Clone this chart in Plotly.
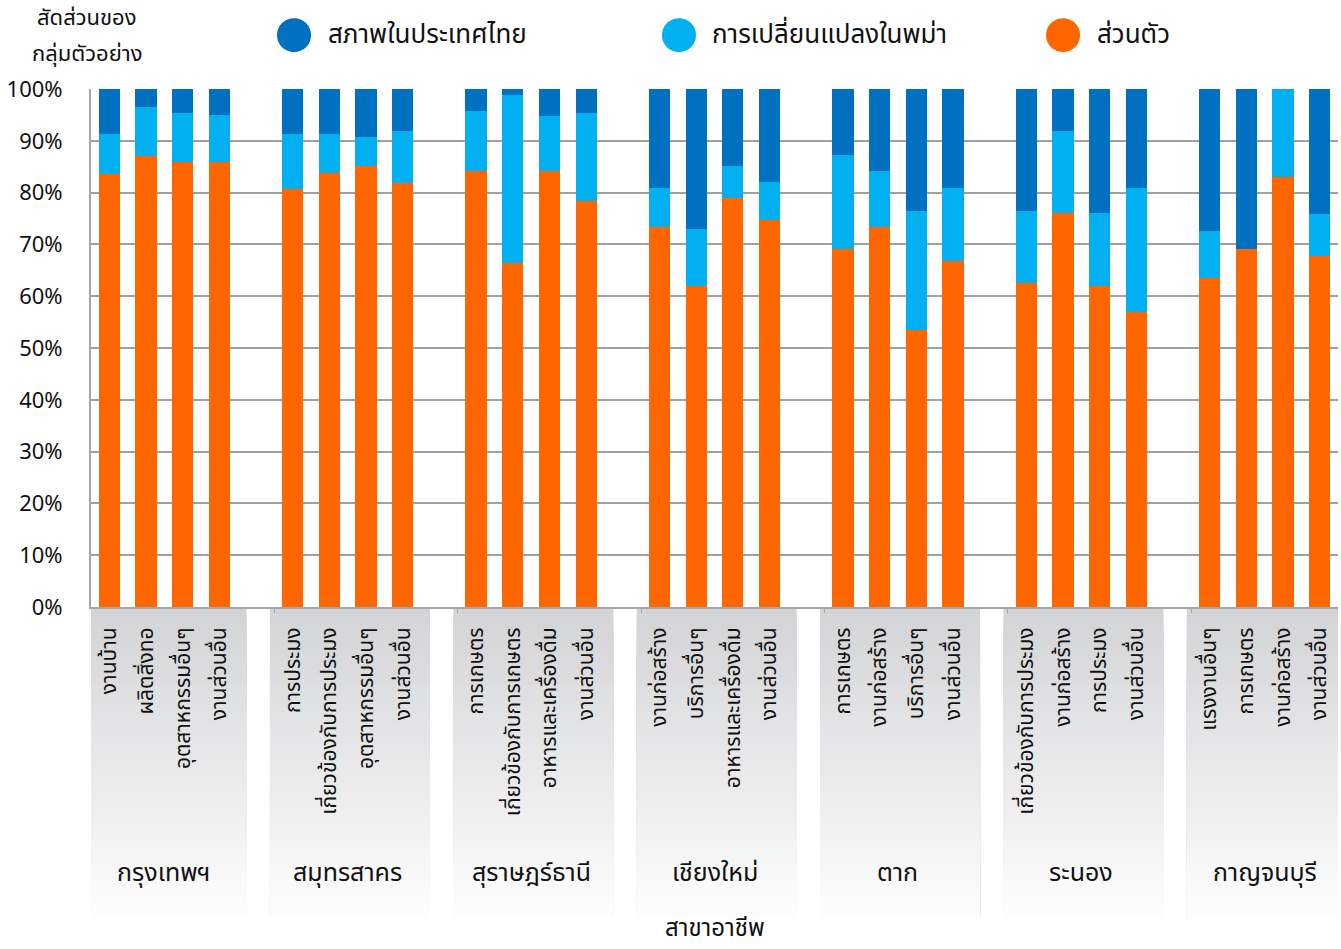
import plotly.graph_objects as go

# ---------------- data ----------------
provinces = ["กรุงเทพฯ", "สมุทรสาคร", "สุราษฎร์ธานี", "เชียงใหม่", "ตาก", "ระนอง", "กาญจนบุรี"]
occupations = [
    ["งานบ้าน", "ผลิตสิ่งทอ", "อุตสาหกรรมอื่นๆ", "งานส่วนอื่น"],
    ["การประมง", "เกี่ยวข้องกับการประมง", "อุตสาหกรรมอื่นๆ", "งานส่วนอื่น"],
    ["การเกษตร", "เกี่ยวข้องกับการเกษตร", "อาหารและเครื่องดื่ม", "งานส่วนอื่น"],
    ["งานก่อสร้าง", "บริการอื่นๆ", "อาหารและเครื่องดื่ม", "งานส่วนอื่น"],
    ["การเกษตร", "งานก่อสร้าง", "บริการอื่นๆ", "งานส่วนอื่น"],
    ["เกี่ยวข้องกับการประมง", "งานก่อสร้าง", "การประมง", "งานส่วนอื่น"],
    ["แรงงานอื่นๆ", "การเกษตร", "งานก่อสร้าง", "งานส่วนอื่น"],
]
series_names = ["สภาพในประเทศไทย", "การเปลี่ยนแปลงในพม่า", "ส่วนตัว"]
series_colors = ["#0070c0", "#00b0f0", "#ff6600"]

personal = [  # ส่วนตัว (%)
    [83.5, 87.0, 85.9, 85.9],
    [80.6, 83.8, 85.2, 81.8],
    [84.2, 66.4, 84.2, 78.3],
    [73.3, 61.9, 78.9, 74.7],
    [69.2, 73.3, 53.5, 66.8],
    [62.5, 76.1, 61.9, 57.0],
    [63.6, 69.2, 83.1, 67.8],
]
myanmar = [  # การเปลี่ยนแปลงในพม่า (%)
    [7.9, 9.5, 9.4, 9.0],
    [10.8, 7.6, 5.6, 10.0],
    [11.5, 32.4, 10.5, 17.0],
    [7.6, 11.1, 6.3, 7.3],
    [18.1, 10.9, 23.0, 14.1],
    [14.0, 15.7, 14.2, 23.9],
    [9.0, 0.0, 16.9, 8.0],
]
thailand = [  # สภาพในประเทศไทย (%)
    [8.6, 3.5, 4.7, 5.1],
    [8.6, 8.6, 9.2, 8.2],
    [4.3, 1.2, 5.3, 4.7],
    [19.1, 27.0, 14.8, 18.0],
    [12.7, 15.8, 23.5, 19.1],
    [23.5, 8.2, 23.9, 19.1],
    [27.4, 30.8, 0.0, 24.2],
]
y_ticks = [0, 10, 20, 30, 40, 50, 60, 70, 80, 90, 100]
y_title_lines = ["สัดส่วนของ", "กลุ่มตัวอย่าง"]
x_title = "สาขาอาชีพ"

FONT = "Noto Sans Thai, Noto Sans Thai Looped, Tahoma, Noto Sans, sans-serif"

# ---------------- layout helpers ----------------
SLOTS = 5  # 4 bars + 1 gap per province
xs, labels = [], []
for g, occ in enumerate(occupations):
    for j, name in enumerate(occ):
        xs.append(g * SLOTS + j)
        labels.append(name)

def flat(a):
    return [v for row in a for v in row]

fig = go.Figure()
for name, color, vals in [
    (series_names[2], series_colors[2], personal),
    (series_names[1], series_colors[1], myanmar),
    (series_names[0], series_colors[0], thailand),
]:
    fig.add_trace(go.Bar(x=xs, y=flat(vals), name=name, marker_color=color,
                         marker_line_width=0, width=0.58, showlegend=False))

shapes = []
annotations = []

# gradient boxes under each province group (overlapping strips -> no seams)
N = 40
top_c = (211, 212, 214)
bot_c = (253, 253, 253)
y_top, y_bot = 0.0, -0.60
for g in range(len(provinces)):
    x0 = g * SLOTS - 0.62 if g > 0 else -0.5
    x1 = g * SLOTS + 3.74 if g < len(provinces) - 1 else 33.6
    for k in range(N):
        t = k / (N - 1)
        c = tuple(int(round(top_c[i] + (bot_c[i] - top_c[i]) * t)) for i in range(3))
        ya = y_top + (y_bot - y_top) * k / N
        shapes.append(dict(type="rect", xref="x", yref="paper", x0=x0, x1=x1,
                           y0=ya, y1=y_bot, fillcolor="rgb(%d,%d,%d)" % c,
                           line=dict(width=0), layer="below"))
    annotations.append(dict(text=provinces[g], xref="x", yref="paper",
                            x=g * SLOTS + 1.5, y=-0.513, showarrow=False,
                            font=dict(size=25, color="#111111", family=FONT),
                            xanchor="center", yanchor="middle"))

# manual legend with large circle markers
leg_x = [0.1628, 0.4715, 0.7795]
leg_tx = [0.1885, 0.4964, 0.8051]
for i in range(3):
    shapes.append(dict(type="circle", xref="paper", yref="paper",
                       xsizemode="pixel", ysizemode="pixel",
                       xanchor=leg_x[i], yanchor=1.104,
                       x0=-17, x1=17, y0=-17, y1=17,
                       fillcolor=series_colors[i], line=dict(width=0)))
    annotations.append(dict(text=series_names[i], xref="paper", yref="paper",
                            x=leg_tx[i], y=1.104, showarrow=False,
                            xanchor="left", yanchor="middle",
                            font=dict(size=26, color="#111111", family=FONT)))

# y-axis title, two lines at top-left
for txt, yy, anc in zip(y_title_lines, [1.1023, 1.1004], ["bottom", "top"]):
    annotations.append(dict(text=txt, xref="paper", yref="paper", x=-0.003, y=yy,
                            showarrow=False, xanchor="center", yanchor=anc,
                            borderpad=0,
                            font=dict(size=22, color="#111111", family=FONT)))
annotations.append(dict(text=x_title, xref="paper", yref="paper", x=0.5, y=-0.622,
                        showarrow=False, xanchor="center", yanchor="middle",
                        font=dict(size=24, color="#111111", family=FONT)))

fig.update_layout(
    barmode="stack",
    width=1341, height=949,
    margin=dict(l=91, r=3, t=89, b=342, autoexpand=False),
    paper_bgcolor="white", plot_bgcolor="white",
    font=dict(family=FONT, color="#111111"),
    shapes=shapes, annotations=annotations,
    bargap=0,
)
fig.update_xaxes(
    range=[-0.5, 33.5], tickmode="array", tickvals=xs, ticktext=labels,
    tickangle=-90, tickfont=dict(size=21, family=FONT, color="#111111"),
    showgrid=False, showline=True, linecolor="#a6a6a6", linewidth=2,
    ticks="", ticklabelstandoff=10, zeroline=False,
    minor=dict(tickmode="array", tickvals=[g * SLOTS - 0.5 for g in range(1, 7)],
               ticks="outside", ticklen=4, tickcolor="#a6a6a6", tickwidth=1),
)
fig.update_yaxes(
    range=[0, 100], tickmode="array", tickvals=y_ticks,
    ticktext=["%d%%" % v for v in y_ticks],
    tickfont=dict(size=22, family=FONT, color="#111111"),
    showgrid=True, gridcolor="#a0a0a0", gridwidth=2,
    showline=True, linecolor="#a6a6a6", linewidth=2,
    ticks="", ticklabelstandoff=22, zeroline=False,
)

fig.write_html(
    "out.html",
    config={"displayModeBar": False},
    post_script="document.body.style.margin='0';document.body.style.overflow='hidden';",
)
